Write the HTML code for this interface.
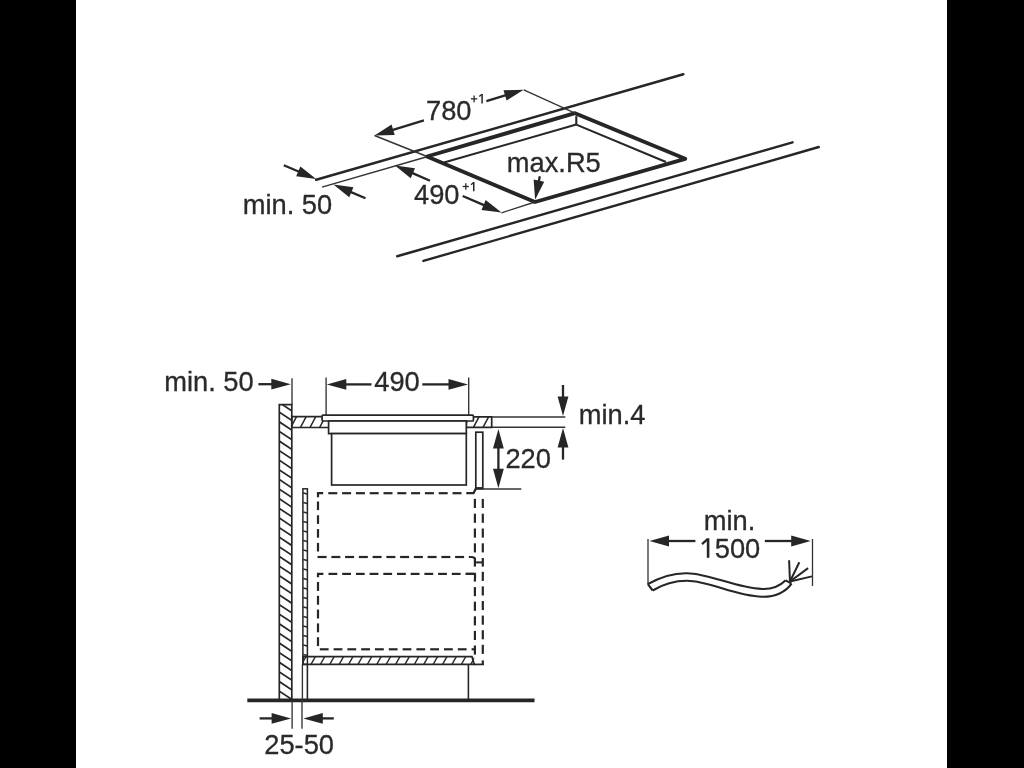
<!DOCTYPE html>
<html><head><meta charset="utf-8"><style>
html,body{margin:0;padding:0;background:#000;}
body{width:1024px;height:768px;overflow:hidden;position:relative;}
svg{position:absolute;left:0;top:0;filter:blur(0.45px);}
text{font-family:"Liberation Sans",sans-serif;}
</style></head><body>
<div style="position:absolute;left:76px;top:0;width:871px;height:768px;background:#fff"></div>
<svg width="1024" height="768" viewBox="0 0 1024 768">
<line x1="316.20" y1="179.80" x2="683.30" y2="74.20" stroke="#262626" stroke-width="2.5" stroke-linecap="round"/>
<line x1="322.00" y1="187.10" x2="427.00" y2="156.80" stroke="#333" stroke-width="1.5" stroke-linecap="butt"/>
<line x1="397.20" y1="256.25" x2="792.50" y2="142.30" stroke="#262626" stroke-width="2.4" stroke-linecap="round"/>
<line x1="423.40" y1="260.90" x2="818.75" y2="147.00" stroke="#262626" stroke-width="2.4" stroke-linecap="round"/>
<polygon points="427.00,156.50 575.00,113.20 685.20,158.80 535.00,202.00" fill="none" stroke="#262626" stroke-width="3.9" stroke-linejoin="round"/>
<line x1="444.00" y1="162.50" x2="576.30" y2="124.60" stroke="#262626" stroke-width="2.1" stroke-linecap="butt"/>
<line x1="576.30" y1="116.20" x2="576.30" y2="124.60" stroke="#262626" stroke-width="2.1" stroke-linecap="butt"/>
<line x1="576.30" y1="124.60" x2="666.00" y2="162.00" stroke="#262626" stroke-width="2.1" stroke-linecap="butt"/>
<line x1="374.50" y1="135.50" x2="427.00" y2="156.50" stroke="#333" stroke-width="1.35" stroke-linecap="butt"/>
<line x1="523.70" y1="89.80" x2="575.00" y2="113.20" stroke="#333" stroke-width="1.35" stroke-linecap="butt"/>
<line x1="501.50" y1="212.80" x2="535.00" y2="202.00" stroke="#333" stroke-width="1.35" stroke-linecap="butt"/>
<line x1="423.90" y1="120.30" x2="392.18" y2="130.06" stroke="#262626" stroke-width="2.3" stroke-linecap="butt"/>
<polygon points="374.50,135.50 391.55,124.60 394.73,134.93" fill="#262626"/>
<line x1="486.40" y1="101.10" x2="505.99" y2="95.16" stroke="#262626" stroke-width="2.3" stroke-linecap="butt"/>
<polygon points="523.70,89.80 506.60,100.62 503.47,90.29" fill="#262626"/>
<line x1="430.00" y1="180.80" x2="411.95" y2="172.91" stroke="#262626" stroke-width="2.3" stroke-linecap="butt"/>
<polygon points="395.00,165.50 415.03,168.36 410.70,178.26" fill="#262626"/>
<line x1="462.70" y1="196.00" x2="484.49" y2="205.32" stroke="#262626" stroke-width="2.3" stroke-linecap="butt"/>
<polygon points="501.50,212.60 481.45,209.89 485.70,199.97" fill="#262626"/>
<line x1="283.75" y1="165.20" x2="299.18" y2="171.76" stroke="#262626" stroke-width="2.3" stroke-linecap="butt"/>
<polygon points="316.20,179.00 296.14,176.34 300.37,166.40" fill="#262626"/>
<line x1="365.50" y1="198.30" x2="350.42" y2="191.86" stroke="#262626" stroke-width="2.3" stroke-linecap="butt"/>
<polygon points="333.40,184.60 353.45,187.29 349.22,197.22" fill="#262626"/>
<line x1="539.80" y1="176.30" x2="538.73" y2="181.66" stroke="#262626" stroke-width="2.3" stroke-linecap="butt"/>
<polygon points="535.10,199.80 533.63,179.62 544.22,181.74" fill="#262626"/>
<text transform="translate(426.00,119.80) scale(1,1.035)" font-size="27.3" fill="#2a2a2a" stroke="#2a2a2a" stroke-width="0.3">780</text>
<line x1="470.90" y1="98.85" x2="477.30" y2="98.85" stroke="#262626" stroke-width="1.3" stroke-linecap="butt"/>
<line x1="474.10" y1="95.40" x2="474.10" y2="102.20" stroke="#262626" stroke-width="1.3" stroke-linecap="butt"/>
<line x1="482.10" y1="93.90" x2="482.10" y2="103.40" stroke="#262626" stroke-width="1.5" stroke-linecap="butt"/>
<line x1="481.90" y1="94.30" x2="479.30" y2="96.60" stroke="#262626" stroke-width="1.3" stroke-linecap="butt"/>
<text transform="translate(413.97,203.50) scale(1,1.035)" font-size="27.3" fill="#2a2a2a" stroke="#2a2a2a" stroke-width="0.3">490</text>
<line x1="462.60" y1="186.50" x2="468.90" y2="186.50" stroke="#262626" stroke-width="1.3" stroke-linecap="butt"/>
<line x1="465.80" y1="183.30" x2="465.80" y2="189.70" stroke="#262626" stroke-width="1.3" stroke-linecap="butt"/>
<line x1="473.75" y1="182.10" x2="473.75" y2="191.20" stroke="#262626" stroke-width="1.5" stroke-linecap="butt"/>
<line x1="473.55" y1="182.50" x2="471.00" y2="184.80" stroke="#262626" stroke-width="1.3" stroke-linecap="butt"/>
<text transform="translate(506.79,171.60) scale(1,1.035)" font-size="27.3" fill="#2a2a2a" stroke="#2a2a2a" stroke-width="0.3">max.R5</text>
<text transform="translate(242.69,213.50) scale(1,1.035)" font-size="27.3" fill="#2a2a2a" stroke="#2a2a2a" stroke-width="0.3">min.&#160;50</text>
<clipPath id="clip37"><rect x="279.3" y="404.7" width="12.5" height="295.50000000000006"/></clipPath>
<g clip-path="url(#clip37)"><line x1="278.3" y1="392.30" x2="292.8" y2="401.87" stroke="#262626" stroke-width="1.7"/><line x1="278.3" y1="401.92" x2="292.8" y2="411.49" stroke="#262626" stroke-width="1.7"/><line x1="278.3" y1="411.54" x2="292.8" y2="421.11" stroke="#262626" stroke-width="1.7"/><line x1="278.3" y1="421.16" x2="292.8" y2="430.73" stroke="#262626" stroke-width="1.7"/><line x1="278.3" y1="430.78" x2="292.8" y2="440.35" stroke="#262626" stroke-width="1.7"/><line x1="278.3" y1="440.40" x2="292.8" y2="449.97" stroke="#262626" stroke-width="1.7"/><line x1="278.3" y1="450.02" x2="292.8" y2="459.59" stroke="#262626" stroke-width="1.7"/><line x1="278.3" y1="459.64" x2="292.8" y2="469.21" stroke="#262626" stroke-width="1.7"/><line x1="278.3" y1="469.26" x2="292.8" y2="478.83" stroke="#262626" stroke-width="1.7"/><line x1="278.3" y1="478.88" x2="292.8" y2="488.45" stroke="#262626" stroke-width="1.7"/><line x1="278.3" y1="488.50" x2="292.8" y2="498.07" stroke="#262626" stroke-width="1.7"/><line x1="278.3" y1="498.12" x2="292.8" y2="507.69" stroke="#262626" stroke-width="1.7"/><line x1="278.3" y1="507.74" x2="292.8" y2="517.31" stroke="#262626" stroke-width="1.7"/><line x1="278.3" y1="517.36" x2="292.8" y2="526.93" stroke="#262626" stroke-width="1.7"/><line x1="278.3" y1="526.98" x2="292.8" y2="536.55" stroke="#262626" stroke-width="1.7"/><line x1="278.3" y1="536.60" x2="292.8" y2="546.17" stroke="#262626" stroke-width="1.7"/><line x1="278.3" y1="546.22" x2="292.8" y2="555.79" stroke="#262626" stroke-width="1.7"/><line x1="278.3" y1="555.84" x2="292.8" y2="565.41" stroke="#262626" stroke-width="1.7"/><line x1="278.3" y1="565.46" x2="292.8" y2="575.03" stroke="#262626" stroke-width="1.7"/><line x1="278.3" y1="575.08" x2="292.8" y2="584.65" stroke="#262626" stroke-width="1.7"/><line x1="278.3" y1="584.70" x2="292.8" y2="594.27" stroke="#262626" stroke-width="1.7"/><line x1="278.3" y1="594.32" x2="292.8" y2="603.89" stroke="#262626" stroke-width="1.7"/><line x1="278.3" y1="603.94" x2="292.8" y2="613.51" stroke="#262626" stroke-width="1.7"/><line x1="278.3" y1="613.56" x2="292.8" y2="623.13" stroke="#262626" stroke-width="1.7"/><line x1="278.3" y1="623.18" x2="292.8" y2="632.75" stroke="#262626" stroke-width="1.7"/><line x1="278.3" y1="632.80" x2="292.8" y2="642.37" stroke="#262626" stroke-width="1.7"/><line x1="278.3" y1="642.42" x2="292.8" y2="651.99" stroke="#262626" stroke-width="1.7"/><line x1="278.3" y1="652.04" x2="292.8" y2="661.61" stroke="#262626" stroke-width="1.7"/><line x1="278.3" y1="661.66" x2="292.8" y2="671.23" stroke="#262626" stroke-width="1.7"/><line x1="278.3" y1="671.28" x2="292.8" y2="680.85" stroke="#262626" stroke-width="1.7"/><line x1="278.3" y1="680.90" x2="292.8" y2="690.47" stroke="#262626" stroke-width="1.7"/><line x1="278.3" y1="690.52" x2="292.8" y2="700.09" stroke="#262626" stroke-width="1.7"/><line x1="278.3" y1="700.14" x2="292.8" y2="709.71" stroke="#262626" stroke-width="1.7"/><line x1="278.3" y1="709.76" x2="292.8" y2="719.33" stroke="#262626" stroke-width="1.7"/></g>
<polyline points="279.30,700.20 279.30,404.70 291.80,404.70 291.80,700.20" fill="none" stroke="#262626" stroke-width="1.7" stroke-linejoin="miter"/>
<line x1="292.00" y1="378.30" x2="292.00" y2="404.70" stroke="#333" stroke-width="1.35" stroke-linecap="butt"/>
<line x1="247.30" y1="700.40" x2="534.50" y2="700.40" stroke="#262626" stroke-width="3.7" stroke-linecap="butt"/>
<text transform="translate(164.19,391.40) scale(1,1.035)" font-size="27.3" fill="#2a2a2a" stroke="#2a2a2a" stroke-width="0.3">min.&#160;50</text>
<line x1="258.40" y1="384.20" x2="272.30" y2="384.20" stroke="#262626" stroke-width="2.3" stroke-linecap="butt"/>
<polygon points="290.80,384.20 271.30,389.60 271.30,378.80" fill="#262626"/>
<line x1="326.10" y1="377.60" x2="326.10" y2="415.10" stroke="#333" stroke-width="1.35" stroke-linecap="butt"/>
<line x1="468.70" y1="377.60" x2="468.70" y2="415.10" stroke="#333" stroke-width="1.35" stroke-linecap="butt"/>
<line x1="371.50" y1="384.40" x2="345.30" y2="384.40" stroke="#262626" stroke-width="2.3" stroke-linecap="butt"/>
<polygon points="326.80,384.40 346.30,379.00 346.30,389.80" fill="#262626"/>
<line x1="422.30" y1="384.40" x2="449.50" y2="384.40" stroke="#262626" stroke-width="2.3" stroke-linecap="butt"/>
<polygon points="468.00,384.40 448.50,389.80 448.50,379.00" fill="#262626"/>
<text transform="translate(374.27,390.90) scale(1,1.035)" font-size="27.3" fill="#2a2a2a" stroke="#2a2a2a" stroke-width="0.3">490</text>
<clipPath id="clip52"><rect x="291.8" y="416.7" width="37.19999999999999" height="10.800000000000011"/></clipPath>
<g clip-path="url(#clip52)"><line x1="280.70" y1="428.5" x2="287.45" y2="415.7" stroke="#262626" stroke-width="1.5"/><line x1="290.30" y1="428.5" x2="297.05" y2="415.7" stroke="#262626" stroke-width="1.5"/><line x1="299.90" y1="428.5" x2="306.65" y2="415.7" stroke="#262626" stroke-width="1.5"/><line x1="309.50" y1="428.5" x2="316.25" y2="415.7" stroke="#262626" stroke-width="1.5"/><line x1="319.10" y1="428.5" x2="325.85" y2="415.7" stroke="#262626" stroke-width="1.5"/><line x1="328.70" y1="428.5" x2="335.45" y2="415.7" stroke="#262626" stroke-width="1.5"/><line x1="338.30" y1="428.5" x2="345.05" y2="415.7" stroke="#262626" stroke-width="1.5"/></g>
<polygon points="291.80,416.70 329.00,416.70 329.00,427.50 291.80,427.50" fill="none" stroke="#262626" stroke-width="1.7" stroke-linejoin="miter"/>
<clipPath id="clip55"><rect x="466.3" y="416.8" width="25.399999999999977" height="10.599999999999966"/></clipPath>
<g clip-path="url(#clip55)"><line x1="453.70" y1="428.4" x2="460.33" y2="415.8" stroke="#262626" stroke-width="1.5"/><line x1="463.30" y1="428.4" x2="469.93" y2="415.8" stroke="#262626" stroke-width="1.5"/><line x1="472.90" y1="428.4" x2="479.53" y2="415.8" stroke="#262626" stroke-width="1.5"/><line x1="482.50" y1="428.4" x2="489.13" y2="415.8" stroke="#262626" stroke-width="1.5"/><line x1="492.10" y1="428.4" x2="498.73" y2="415.8" stroke="#262626" stroke-width="1.5"/><line x1="501.70" y1="428.4" x2="508.33" y2="415.8" stroke="#262626" stroke-width="1.5"/></g>
<polygon points="466.30,416.80 491.70,416.80 491.70,427.40 466.30,427.40" fill="none" stroke="#262626" stroke-width="1.7" stroke-linejoin="miter"/>
<line x1="491.70" y1="417.00" x2="565.30" y2="417.00" stroke="#333" stroke-width="1.4" stroke-linecap="butt"/>
<line x1="491.70" y1="427.20" x2="565.30" y2="427.20" stroke="#333" stroke-width="1.4" stroke-linecap="butt"/>
<rect x="322.1" y="415.1" width="151.3" height="5.9" fill="#fff" stroke="#262626" stroke-width="1.7" rx="1"/>
<rect x="328.6" y="421" width="137.7" height="12.6" fill="#fff" stroke="#262626" stroke-width="1.7"/>
<rect x="331.6" y="433.6" width="134.7" height="51.4" fill="#fff" stroke="#262626" stroke-width="1.7"/>
<rect x="475.8" y="432.2" width="7" height="56.3" fill="none" stroke="#262626" stroke-width="1.7"/>
<line x1="482.80" y1="489.00" x2="521.30" y2="489.00" stroke="#333" stroke-width="1.3" stroke-linecap="butt"/>
<line x1="498.40" y1="458.00" x2="498.40" y2="447.40" stroke="#262626" stroke-width="2.3" stroke-linecap="butt"/>
<polygon points="498.40,428.90 503.80,448.40 493.00,448.40" fill="#262626"/>
<line x1="498.40" y1="458.00" x2="498.40" y2="469.80" stroke="#262626" stroke-width="2.3" stroke-linecap="butt"/>
<polygon points="498.40,488.30 493.00,468.80 503.80,468.80" fill="#262626"/>
<text transform="translate(505.43,467.60) scale(1,1.035)" font-size="27.3" fill="#2a2a2a" stroke="#2a2a2a" stroke-width="0.3">220</text>
<line x1="563.00" y1="385.00" x2="563.00" y2="397.50" stroke="#262626" stroke-width="2.3" stroke-linecap="butt"/>
<polygon points="563.00,416.00 557.60,396.50 568.40,396.50" fill="#262626"/>
<line x1="563.00" y1="459.60" x2="563.00" y2="446.50" stroke="#262626" stroke-width="2.3" stroke-linecap="butt"/>
<polygon points="563.00,428.00 568.40,447.50 557.60,447.50" fill="#262626"/>
<text transform="translate(578.69,423.60) scale(1,1.035)" font-size="27.3" fill="#2a2a2a" stroke="#2a2a2a" stroke-width="0.3">min.4</text>
<rect x="302.9" y="488.8" width="4.5" height="175.6" fill="none" stroke="#262626" stroke-width="1.5"/>
<line x1="303.20" y1="493.00" x2="307.20" y2="494.00" stroke="#2a2a2a" stroke-width="1.3" stroke-linecap="butt"/>
<line x1="303.20" y1="502.50" x2="307.20" y2="503.50" stroke="#2a2a2a" stroke-width="1.3" stroke-linecap="butt"/>
<line x1="303.20" y1="512.00" x2="307.20" y2="513.00" stroke="#2a2a2a" stroke-width="1.3" stroke-linecap="butt"/>
<line x1="303.20" y1="521.50" x2="307.20" y2="522.50" stroke="#2a2a2a" stroke-width="1.3" stroke-linecap="butt"/>
<line x1="303.20" y1="531.00" x2="307.20" y2="532.00" stroke="#2a2a2a" stroke-width="1.3" stroke-linecap="butt"/>
<line x1="303.20" y1="540.50" x2="307.20" y2="541.50" stroke="#2a2a2a" stroke-width="1.3" stroke-linecap="butt"/>
<line x1="303.20" y1="550.00" x2="307.20" y2="551.00" stroke="#2a2a2a" stroke-width="1.3" stroke-linecap="butt"/>
<line x1="303.20" y1="559.50" x2="307.20" y2="560.50" stroke="#2a2a2a" stroke-width="1.3" stroke-linecap="butt"/>
<line x1="303.20" y1="569.00" x2="307.20" y2="570.00" stroke="#2a2a2a" stroke-width="1.3" stroke-linecap="butt"/>
<line x1="303.20" y1="578.50" x2="307.20" y2="579.50" stroke="#2a2a2a" stroke-width="1.3" stroke-linecap="butt"/>
<line x1="303.20" y1="588.00" x2="307.20" y2="589.00" stroke="#2a2a2a" stroke-width="1.3" stroke-linecap="butt"/>
<line x1="303.20" y1="597.50" x2="307.20" y2="598.50" stroke="#2a2a2a" stroke-width="1.3" stroke-linecap="butt"/>
<line x1="303.20" y1="607.00" x2="307.20" y2="608.00" stroke="#2a2a2a" stroke-width="1.3" stroke-linecap="butt"/>
<line x1="303.20" y1="616.50" x2="307.20" y2="617.50" stroke="#2a2a2a" stroke-width="1.3" stroke-linecap="butt"/>
<line x1="303.20" y1="626.00" x2="307.20" y2="627.00" stroke="#2a2a2a" stroke-width="1.3" stroke-linecap="butt"/>
<line x1="303.20" y1="635.50" x2="307.20" y2="636.50" stroke="#2a2a2a" stroke-width="1.3" stroke-linecap="butt"/>
<line x1="303.20" y1="645.00" x2="307.20" y2="646.00" stroke="#2a2a2a" stroke-width="1.3" stroke-linecap="butt"/>
<line x1="303.20" y1="654.50" x2="307.20" y2="655.50" stroke="#2a2a2a" stroke-width="1.3" stroke-linecap="butt"/>
<line x1="302.40" y1="664.40" x2="302.40" y2="700.00" stroke="#333" stroke-width="1.35" stroke-linecap="butt"/>
<line x1="307.40" y1="664.40" x2="307.40" y2="700.00" stroke="#262626" stroke-width="1.6" stroke-linecap="butt"/>
<polyline points="318.00,497.20 318.00,493.20 323.20,493.20" fill="none" stroke="#262626" stroke-width="2.2" stroke-linejoin="miter"/>
<line x1="328.30" y1="493.20" x2="337.30" y2="493.20" stroke="#262626" stroke-width="2.2"/>
<line x1="342.10" y1="493.20" x2="351.10" y2="493.20" stroke="#262626" stroke-width="2.2"/>
<line x1="355.90" y1="493.20" x2="364.90" y2="493.20" stroke="#262626" stroke-width="2.2"/>
<line x1="369.70" y1="493.20" x2="378.70" y2="493.20" stroke="#262626" stroke-width="2.2"/>
<line x1="383.50" y1="493.20" x2="392.50" y2="493.20" stroke="#262626" stroke-width="2.2"/>
<line x1="397.30" y1="493.20" x2="406.30" y2="493.20" stroke="#262626" stroke-width="2.2"/>
<line x1="411.10" y1="493.20" x2="420.10" y2="493.20" stroke="#262626" stroke-width="2.2"/>
<line x1="424.90" y1="493.20" x2="433.90" y2="493.20" stroke="#262626" stroke-width="2.2"/>
<line x1="438.70" y1="493.20" x2="447.70" y2="493.20" stroke="#262626" stroke-width="2.2"/>
<line x1="452.50" y1="493.20" x2="461.50" y2="493.20" stroke="#262626" stroke-width="2.2"/>
<polyline points="466.30,493.20 473.50,493.20 475.90,488.40" fill="none" stroke="#262626" stroke-width="2.2" stroke-linejoin="round"/>
<line x1="318.00" y1="501.50" x2="318.00" y2="510.10" stroke="#262626" stroke-width="2.2"/>
<line x1="318.00" y1="515.30" x2="318.00" y2="523.90" stroke="#262626" stroke-width="2.2"/>
<line x1="318.00" y1="529.10" x2="318.00" y2="537.70" stroke="#262626" stroke-width="2.2"/>
<line x1="318.00" y1="542.90" x2="318.00" y2="551.50" stroke="#262626" stroke-width="2.2"/>
<line x1="318.00" y1="556.70" x2="318.00" y2="557.00" stroke="#262626" stroke-width="2.2"/>
<line x1="317.60" y1="557.00" x2="326.60" y2="557.00" stroke="#262626" stroke-width="2.2"/>
<line x1="331.35" y1="557.00" x2="340.35" y2="557.00" stroke="#262626" stroke-width="2.2"/>
<line x1="345.10" y1="557.00" x2="354.10" y2="557.00" stroke="#262626" stroke-width="2.2"/>
<line x1="358.85" y1="557.00" x2="367.85" y2="557.00" stroke="#262626" stroke-width="2.2"/>
<line x1="372.60" y1="557.00" x2="381.60" y2="557.00" stroke="#262626" stroke-width="2.2"/>
<line x1="386.35" y1="557.00" x2="395.35" y2="557.00" stroke="#262626" stroke-width="2.2"/>
<line x1="400.10" y1="557.00" x2="409.10" y2="557.00" stroke="#262626" stroke-width="2.2"/>
<line x1="413.85" y1="557.00" x2="422.85" y2="557.00" stroke="#262626" stroke-width="2.2"/>
<line x1="427.60" y1="557.00" x2="436.60" y2="557.00" stroke="#262626" stroke-width="2.2"/>
<line x1="441.35" y1="557.00" x2="450.35" y2="557.00" stroke="#262626" stroke-width="2.2"/>
<line x1="455.10" y1="557.00" x2="464.10" y2="557.00" stroke="#262626" stroke-width="2.2"/>
<line x1="468.85" y1="557.00" x2="470.00" y2="557.00" stroke="#262626" stroke-width="2.2"/>
<path d="M469.3,557 L472,557 Q475,557.5 475,559" fill="none" stroke="#262626" stroke-width="2.2"/>
<polyline points="318.00,577.20 318.00,573.90 323.40,573.90" fill="none" stroke="#262626" stroke-width="2.2" stroke-linejoin="miter"/>
<line x1="328.50" y1="573.90" x2="337.30" y2="573.90" stroke="#262626" stroke-width="2.2"/>
<line x1="342.20" y1="573.90" x2="351.00" y2="573.90" stroke="#262626" stroke-width="2.2"/>
<line x1="355.90" y1="573.90" x2="364.70" y2="573.90" stroke="#262626" stroke-width="2.2"/>
<line x1="369.60" y1="573.90" x2="378.40" y2="573.90" stroke="#262626" stroke-width="2.2"/>
<line x1="383.30" y1="573.90" x2="392.10" y2="573.90" stroke="#262626" stroke-width="2.2"/>
<line x1="397.00" y1="573.90" x2="405.80" y2="573.90" stroke="#262626" stroke-width="2.2"/>
<line x1="410.70" y1="573.90" x2="419.50" y2="573.90" stroke="#262626" stroke-width="2.2"/>
<line x1="424.40" y1="573.90" x2="433.20" y2="573.90" stroke="#262626" stroke-width="2.2"/>
<line x1="438.10" y1="573.90" x2="446.90" y2="573.90" stroke="#262626" stroke-width="2.2"/>
<line x1="451.80" y1="573.90" x2="460.60" y2="573.90" stroke="#262626" stroke-width="2.2"/>
<line x1="465.50" y1="573.90" x2="474.30" y2="573.90" stroke="#262626" stroke-width="2.2"/>
<polyline points="466.00,573.90 475.00,573.90 475.00,579.00" fill="none" stroke="#262626" stroke-width="2.2" stroke-linejoin="miter"/>
<line x1="318.00" y1="582.00" x2="318.00" y2="590.90" stroke="#262626" stroke-width="2.2"/>
<line x1="318.00" y1="595.80" x2="318.00" y2="604.70" stroke="#262626" stroke-width="2.2"/>
<line x1="318.00" y1="609.60" x2="318.00" y2="618.50" stroke="#262626" stroke-width="2.2"/>
<line x1="318.00" y1="623.40" x2="318.00" y2="632.30" stroke="#262626" stroke-width="2.2"/>
<line x1="318.00" y1="637.20" x2="318.00" y2="646.10" stroke="#262626" stroke-width="2.2"/>
<line x1="319.80" y1="649.30" x2="328.60" y2="649.30" stroke="#262626" stroke-width="2.2"/>
<line x1="333.60" y1="649.30" x2="342.40" y2="649.30" stroke="#262626" stroke-width="2.2"/>
<line x1="347.40" y1="649.30" x2="356.20" y2="649.30" stroke="#262626" stroke-width="2.2"/>
<line x1="361.20" y1="649.30" x2="370.00" y2="649.30" stroke="#262626" stroke-width="2.2"/>
<line x1="375.00" y1="649.30" x2="383.80" y2="649.30" stroke="#262626" stroke-width="2.2"/>
<line x1="388.80" y1="649.30" x2="397.60" y2="649.30" stroke="#262626" stroke-width="2.2"/>
<line x1="402.60" y1="649.30" x2="411.40" y2="649.30" stroke="#262626" stroke-width="2.2"/>
<line x1="416.40" y1="649.30" x2="425.20" y2="649.30" stroke="#262626" stroke-width="2.2"/>
<line x1="430.20" y1="649.30" x2="439.00" y2="649.30" stroke="#262626" stroke-width="2.2"/>
<line x1="444.00" y1="649.30" x2="452.80" y2="649.30" stroke="#262626" stroke-width="2.2"/>
<line x1="457.80" y1="649.30" x2="466.60" y2="649.30" stroke="#262626" stroke-width="2.2"/>
<line x1="471.60" y1="649.30" x2="475.00" y2="649.30" stroke="#262626" stroke-width="2.2"/>
<line x1="474.90" y1="498.90" x2="474.90" y2="508.00" stroke="#262626" stroke-width="2.2"/>
<line x1="474.90" y1="513.70" x2="474.90" y2="522.80" stroke="#262626" stroke-width="2.2"/>
<line x1="474.90" y1="528.50" x2="474.90" y2="537.60" stroke="#262626" stroke-width="2.2"/>
<line x1="474.90" y1="543.30" x2="474.90" y2="552.40" stroke="#262626" stroke-width="2.2"/>
<line x1="474.90" y1="558.00" x2="474.90" y2="566.60" stroke="#262626" stroke-width="2.2" stroke-linecap="butt"/>
<line x1="482.80" y1="498.90" x2="482.80" y2="508.00" stroke="#262626" stroke-width="2.2"/>
<line x1="482.80" y1="513.70" x2="482.80" y2="522.80" stroke="#262626" stroke-width="2.2"/>
<line x1="482.80" y1="528.50" x2="482.80" y2="537.60" stroke="#262626" stroke-width="2.2"/>
<line x1="482.80" y1="543.30" x2="482.80" y2="552.40" stroke="#262626" stroke-width="2.2"/>
<line x1="482.80" y1="558.00" x2="482.80" y2="566.60" stroke="#262626" stroke-width="2.2" stroke-linecap="butt"/>
<line x1="474.90" y1="579.00" x2="474.90" y2="581.60" stroke="#262626" stroke-width="2.2"/>
<line x1="474.90" y1="587.10" x2="474.90" y2="596.20" stroke="#262626" stroke-width="2.2"/>
<line x1="474.90" y1="601.70" x2="474.90" y2="610.80" stroke="#262626" stroke-width="2.2"/>
<line x1="474.90" y1="616.30" x2="474.90" y2="625.40" stroke="#262626" stroke-width="2.2"/>
<line x1="474.90" y1="630.90" x2="474.90" y2="640.00" stroke="#262626" stroke-width="2.2"/>
<line x1="474.90" y1="645.50" x2="474.90" y2="654.60" stroke="#262626" stroke-width="2.2"/>
<line x1="482.80" y1="571.80" x2="482.80" y2="580.90" stroke="#262626" stroke-width="2.2"/>
<line x1="482.80" y1="586.40" x2="482.80" y2="595.50" stroke="#262626" stroke-width="2.2"/>
<line x1="482.80" y1="601.00" x2="482.80" y2="610.10" stroke="#262626" stroke-width="2.2"/>
<line x1="482.80" y1="615.60" x2="482.80" y2="624.70" stroke="#262626" stroke-width="2.2"/>
<line x1="482.80" y1="630.20" x2="482.80" y2="639.30" stroke="#262626" stroke-width="2.2"/>
<line x1="482.80" y1="644.80" x2="482.80" y2="653.90" stroke="#262626" stroke-width="2.2"/>
<line x1="474.90" y1="562.40" x2="482.80" y2="562.40" stroke="#262626" stroke-width="2.0" stroke-linecap="butt"/>
<line x1="482.80" y1="660.40" x2="482.80" y2="664.40" stroke="#262626" stroke-width="2.2" stroke-linecap="butt"/>
<line x1="475.50" y1="488.40" x2="483.00" y2="488.40" stroke="#262626" stroke-width="2.6" stroke-linecap="butt"/>
<clipPath id="clip181"><rect x="303" y="656.7" width="171.2" height="7.699999999999932"/></clipPath>
<g clip-path="url(#clip181)"><line x1="291.60" y1="665.4" x2="297.10" y2="655.7" stroke="#262626" stroke-width="1.4"/><line x1="301.00" y1="665.4" x2="306.50" y2="655.7" stroke="#262626" stroke-width="1.4"/><line x1="310.40" y1="665.4" x2="315.90" y2="655.7" stroke="#262626" stroke-width="1.4"/><line x1="319.80" y1="665.4" x2="325.30" y2="655.7" stroke="#262626" stroke-width="1.4"/><line x1="329.20" y1="665.4" x2="334.70" y2="655.7" stroke="#262626" stroke-width="1.4"/><line x1="338.60" y1="665.4" x2="344.10" y2="655.7" stroke="#262626" stroke-width="1.4"/><line x1="348.00" y1="665.4" x2="353.50" y2="655.7" stroke="#262626" stroke-width="1.4"/><line x1="357.40" y1="665.4" x2="362.90" y2="655.7" stroke="#262626" stroke-width="1.4"/><line x1="366.80" y1="665.4" x2="372.30" y2="655.7" stroke="#262626" stroke-width="1.4"/><line x1="376.20" y1="665.4" x2="381.70" y2="655.7" stroke="#262626" stroke-width="1.4"/><line x1="385.60" y1="665.4" x2="391.10" y2="655.7" stroke="#262626" stroke-width="1.4"/><line x1="395.00" y1="665.4" x2="400.50" y2="655.7" stroke="#262626" stroke-width="1.4"/><line x1="404.40" y1="665.4" x2="409.90" y2="655.7" stroke="#262626" stroke-width="1.4"/><line x1="413.80" y1="665.4" x2="419.30" y2="655.7" stroke="#262626" stroke-width="1.4"/><line x1="423.20" y1="665.4" x2="428.70" y2="655.7" stroke="#262626" stroke-width="1.4"/><line x1="432.60" y1="665.4" x2="438.10" y2="655.7" stroke="#262626" stroke-width="1.4"/><line x1="442.00" y1="665.4" x2="447.50" y2="655.7" stroke="#262626" stroke-width="1.4"/><line x1="451.40" y1="665.4" x2="456.90" y2="655.7" stroke="#262626" stroke-width="1.4"/><line x1="460.80" y1="665.4" x2="466.30" y2="655.7" stroke="#262626" stroke-width="1.4"/><line x1="470.20" y1="665.4" x2="475.70" y2="655.7" stroke="#262626" stroke-width="1.4"/><line x1="479.60" y1="665.4" x2="485.10" y2="655.7" stroke="#262626" stroke-width="1.4"/><line x1="489.00" y1="665.4" x2="494.50" y2="655.7" stroke="#262626" stroke-width="1.4"/></g>
<polygon points="303.00,656.70 472.00,656.70 474.20,664.40 303.00,664.40" fill="none" stroke="#262626" stroke-width="1.7" stroke-linejoin="miter"/>
<line x1="474.20" y1="664.40" x2="484.00" y2="664.40" stroke="#262626" stroke-width="1.7" stroke-linecap="butt"/>
<line x1="468.40" y1="664.40" x2="468.40" y2="700.00" stroke="#262626" stroke-width="1.6" stroke-linecap="butt"/>
<line x1="292.10" y1="700.00" x2="292.10" y2="728.80" stroke="#333" stroke-width="1.35" stroke-linecap="butt"/>
<line x1="302.00" y1="700.00" x2="302.00" y2="728.80" stroke="#333" stroke-width="1.35" stroke-linecap="butt"/>
<line x1="259.60" y1="718.40" x2="272.60" y2="718.40" stroke="#262626" stroke-width="2.3" stroke-linecap="butt"/>
<polygon points="291.10,718.40 271.60,723.80 271.60,713.00" fill="#262626"/>
<line x1="333.80" y1="718.40" x2="321.80" y2="718.40" stroke="#262626" stroke-width="2.3" stroke-linecap="butt"/>
<polygon points="303.30,718.40 322.80,713.00 322.80,723.80" fill="#262626"/>
<text transform="translate(264.23,753.50) scale(1,1.035)" font-size="27.3" fill="#2a2a2a" stroke="#2a2a2a" stroke-width="0.3">25-50</text>
<text transform="translate(703.79,530.30) scale(1,1.035)" font-size="27.3" fill="#2a2a2a" stroke="#2a2a2a" stroke-width="0.3">min.</text>
<text transform="translate(714.74,557.80) scale(1,1.035)" font-size="27.3" fill="#2a2a2a" stroke="#2a2a2a" stroke-width="0.3">500</text>
<line x1="708.10" y1="538.30" x2="708.10" y2="557.80" stroke="#262626" stroke-width="2.6" stroke-linecap="butt"/>
<line x1="707.60" y1="539.20" x2="702.00" y2="544.20" stroke="#262626" stroke-width="2.3" stroke-linecap="butt"/>
<line x1="648.00" y1="539.00" x2="648.00" y2="584.00" stroke="#333" stroke-width="1.3" stroke-linecap="butt"/>
<line x1="812.50" y1="539.00" x2="812.50" y2="586.00" stroke="#333" stroke-width="1.3" stroke-linecap="butt"/>
<line x1="695.40" y1="541.00" x2="668.00" y2="541.00" stroke="#262626" stroke-width="2.3" stroke-linecap="butt"/>
<polygon points="649.50,541.00 669.00,535.60 669.00,546.40" fill="#262626"/>
<line x1="764.80" y1="541.00" x2="792.20" y2="541.00" stroke="#262626" stroke-width="2.3" stroke-linecap="butt"/>
<polygon points="810.70,541.00 791.20,546.40 791.20,535.60" fill="#262626"/>
<path d="M647.8,584.2 C662,576 676,573 687,573.2 C710,573.5 735,588 762.2,589 C772,589.3 780,586 785.7,580.3" fill="none" stroke="#262626" stroke-width="2.1"/>
<path d="M652.7,590.5 C665,583 676,580.8 687,580.8 C710,581 735,596 762.2,596.7 C775,597 786,592 791.5,583.7" fill="none" stroke="#262626" stroke-width="2.1"/>
<line x1="647.80" y1="584.20" x2="652.70" y2="590.50" stroke="#262626" stroke-width="2.1" stroke-linecap="butt"/>
<line x1="785.70" y1="580.30" x2="791.50" y2="583.70" stroke="#262626" stroke-width="2.1" stroke-linecap="butt"/>
<line x1="790.00" y1="581.50" x2="789.10" y2="560.30" stroke="#262626" stroke-width="2.0" stroke-linecap="butt"/>
<line x1="790.00" y1="581.50" x2="799.30" y2="562.20" stroke="#262626" stroke-width="2.0" stroke-linecap="butt"/>
<line x1="790.00" y1="581.50" x2="808.10" y2="568.10" stroke="#262626" stroke-width="2.0" stroke-linecap="butt"/>
<line x1="790.00" y1="581.50" x2="812.00" y2="576.40" stroke="#262626" stroke-width="2.0" stroke-linecap="butt"/>
</svg>
</body></html>
